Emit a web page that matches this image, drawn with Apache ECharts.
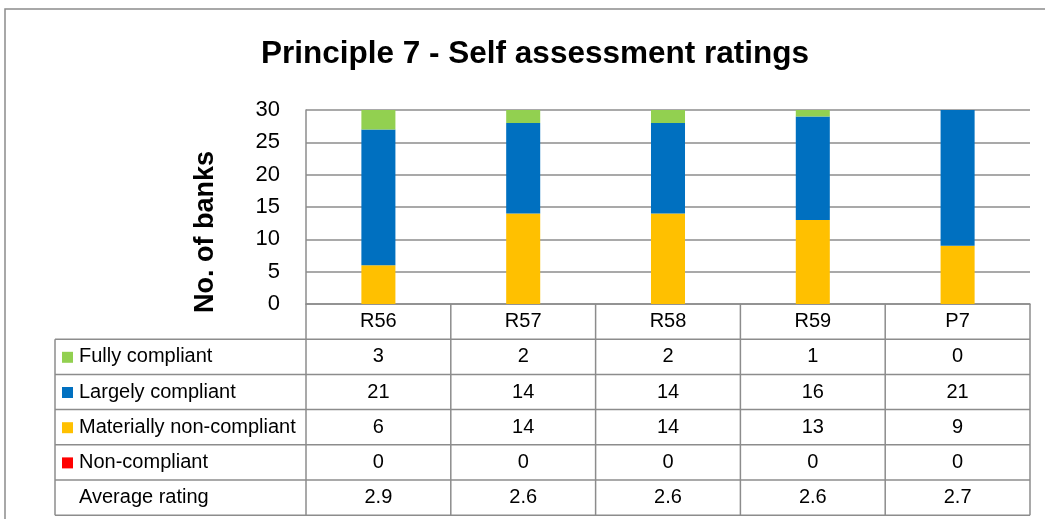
<!DOCTYPE html>
<html lang="en">
<head>
	<meta charset="UTF-8">
	<title>Principle 7 - Self assessment ratings</title>
	<style>
		html, body { margin: 0; padding: 0; background: #fff; }
		#container { width: 1045px; height: 519px; }
	</style>
</head>
<body>
	<div id="container"></div>

	<script src="https://cdn.jsdelivr.net/npm/echarts@6/dist/echarts.min.js"></script>
	<script>
        // data
        var categories = ['R56', 'R57', 'R58', 'R59', 'P7'];
        var fullyCompliant = [3, 2, 2, 1, 0];
        var largelyCompliant = [21, 14, 14, 16, 21];
        var materiallyNonCompliant = [6, 14, 14, 13, 9];
        var nonCompliant = [0, 0, 0, 0, 0];
        var averageRating = ['2.9', '2.6', '2.6', '2.6', '2.7'];

        var FONT = '"Liberation Sans Narrow", "Liberation Sans", sans-serif';
        var LINE = '#8c8c8c';
        var colors = {
            fully: '#92D050',
            largely: '#0070C0',
            materially: '#FFC000',
            non: '#FF0000'
        };

        var gridLeft = 306, gridRight = 15, gridTop = 110, gridBottom = 215;
        var rowH = 35.2;
        var tableLeft = 55;

        function bar(name, data, color) {
            return {
                name: name,
                type: 'bar',
                stack: 'total',
                data: data,
                barWidth: '23.5%',
                itemStyle: { color: color },
                emphasis: { disabled: true }
            };
        }

        var option = {
            animation: false,
            textStyle: { fontFamily: FONT },
            title: {
                text: 'Principle 7 - Self assessment ratings',
                left: 530,
                top: 33,
                textAlign: 'center',
                textStyle: { fontFamily: FONT, fontSize: 31.5, fontWeight: 'bold', color: '#000' }
            },
            grid: { left: gridLeft, right: gridRight, top: gridTop, bottom: gridBottom },
            xAxis: {
                type: 'category',
                data: categories,
                axisLine: { lineStyle: { color: LINE, width: 1.5 } },
                axisTick: { show: false },
                axisLabel: { show: false }
            },
            yAxis: {
                type: 'value',
                min: 0,
                max: 30,
                interval: 5,
                name: 'No. of banks',
                nameLocation: 'middle',
                nameGap: 87,
                nameTextStyle: {
                    fontFamily: FONT, fontSize: 27, fontWeight: 'bold', color: '#000',
                    padding: [0, 50, 0, 0]
                },
                axisLine: { show: true, lineStyle: { color: LINE, width: 1.5 } },
                axisTick: { show: false },
                axisLabel: { fontFamily: FONT, fontSize: 22, color: '#000', margin: 26 },
                splitLine: { lineStyle: { color: LINE, width: 1.5 } }
            },
            series: [
                bar('Non-compliant', nonCompliant, colors.non),
                bar('Materially non-compliant', materiallyNonCompliant, colors.materially),
                bar('Largely compliant', largelyCompliant, colors.largely),
                bar('Fully compliant', fullyCompliant, colors.fully)
            ]
        };

        var myChart = echarts.init(document.getElementById('container'));
        myChart.setOption(option);

        // data table under the plot, aligned to the category axis
        function buildTable() {
            var c0 = myChart.convertToPixel({ xAxisIndex: 0 }, 0);
            var c1 = myChart.convertToPixel({ xAxisIndex: 0 }, 1);
            var band = c1 - c0;
            var axisY = myChart.convertToPixel({ yAxisIndex: 0 }, 0);
            var xEnd = c0 - band / 2 + band * categories.length;
            var g = [];

            var rows = [
                { label: 'Fully compliant', values: fullyCompliant, color: colors.fully },
                { label: 'Largely compliant', values: largelyCompliant, color: colors.largely },
                { label: 'Materially non-compliant', values: materiallyNonCompliant, color: colors.materially },
                { label: 'Non-compliant', values: nonCompliant, color: colors.non },
                { label: 'Average rating', values: averageRating, color: null }
            ];
            var bottomY = axisY + rowH * (rows.length + 1);

            function line(x1, y1, x2, y2) {
                g.push({
                    type: 'line', silent: true,
                    shape: { x1: x1, y1: y1, x2: x2, y2: y2 },
                    style: { stroke: LINE, lineWidth: 1.5 }
                });
            }
            function text(str, x, y, align) {
                g.push({
                    type: 'text', silent: true, x: x, y: y,
                    style: {
                        text: str, fill: '#000', font: '20px ' + FONT,
                        align: align, verticalAlign: 'middle'
                    }
                });
            }

            // header row with category names
            for (var i = 0; i < categories.length; i++) {
                var cx = myChart.convertToPixel({ xAxisIndex: 0 }, i);
                text(categories[i], cx, axisY + rowH / 2, 'center');
            }
            // column separators
            for (var k = 0; k <= categories.length; k++) {
                var bx = c0 - band / 2 + band * k;
                line(bx, axisY, bx, bottomY);
            }
            line(tableLeft, axisY + rowH, tableLeft, bottomY);

            for (var r = 0; r < rows.length; r++) {
                var top = axisY + rowH * (r + 1);
                var mid = top + rowH / 2;
                line(tableLeft, top, xEnd, top);
                if (rows[r].color) {
                    g.push({
                        type: 'rect', silent: true,
                        shape: { x: tableLeft + 7, y: mid - 5, width: 11, height: 11 },
                        style: { fill: rows[r].color }
                    });
                }
                text(rows[r].label, tableLeft + 24, mid, 'left');
                for (var j = 0; j < categories.length; j++) {
                    var x = myChart.convertToPixel({ xAxisIndex: 0 }, j);
                    text(String(rows[r].values[j]), x, mid, 'center');
                }
            }
            line(tableLeft, bottomY, xEnd, bottomY);

            // outer chart-area border
            g.push({
                type: 'rect', silent: true,
                shape: { x: 5, y: 9, width: 1100, height: 600 },
                style: { fill: null, stroke: LINE, lineWidth: 1.5 }
            });

            myChart.setOption({ graphic: { elements: g } });
        }
        buildTable();
    </script>
</body>
</html>
